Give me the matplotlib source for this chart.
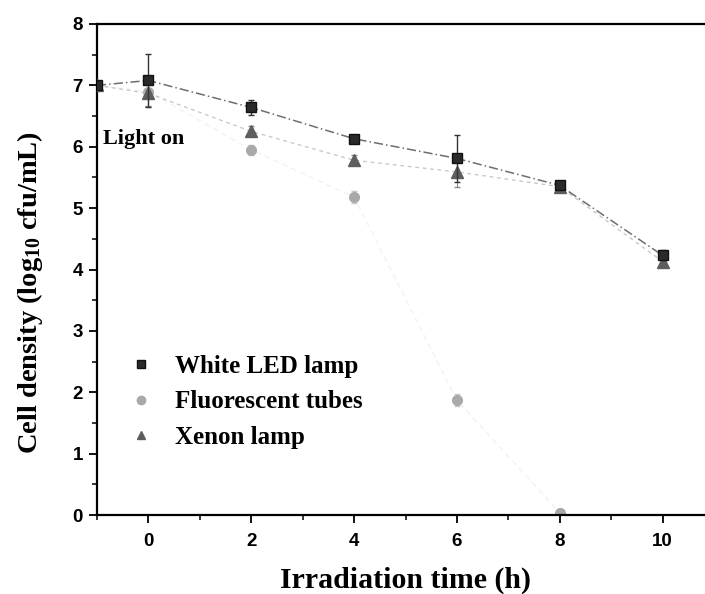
import matplotlib
matplotlib.use("Agg")
import matplotlib.pyplot as plt
from matplotlib.ticker import MultipleLocator

# Irradiation time (h); -1 is the dark control before the light is switched on
time_led = [-1, 0, 2, 4, 6, 8, 10]
led = [7.0, 7.08, 6.64, 6.13, 5.81, 5.37, 4.23]
led_err = [0.05, 0.43, 0.12, 0.06, 0.38, 0.05, 0.08]

time_fluo = [-1, 0, 2, 4, 6, 8]
fluo = [7.0, 6.9, 5.95, 5.18, 1.87, 0.04]
fluo_err = [0.05, 0.25, 0.08, 0.1, 0.1, 0.05]

time_xe = [-1, 0, 2, 4, 6, 8, 10]
xenon = [7.0, 6.87, 6.25, 5.78, 5.59, 5.35, 4.13]
xenon_err = [0.05, 0.2, 0.08, 0.08, 0.25, 0.05, 0.08]

labels = ["White LED lamp", "Fluorescent tubes", "Xenon lamp"]

plt.rcParams["mathtext.fontset"] = "custom"
plt.rcParams["mathtext.rm"] = "Liberation Serif:bold"
plt.rcParams["mathtext.it"] = "Liberation Serif:bold"
plt.rcParams["mathtext.bf"] = "Liberation Serif:bold"

fig = plt.figure(figsize=(7.05, 5.94), dpi=100)
ax = fig.add_axes([97 / 705, 1 - 515 / 594, (714 - 97) / 705, (515 - 24) / 594])

serif = ["Liberation Serif", "DejaVu Serif"]

ax.errorbar(time_fluo, fluo, yerr=fluo_err, color="#f2f2f2", marker="o", ms=7,
            mfc="#a9a9a9", mec="#a9a9a9", ecolor="#c8c8c8",
            ls=(0, (4, 3)), lw=1.0, capsize=2, elinewidth=0.8, label=labels[1], zorder=2)
ax.errorbar(time_xe, xenon, yerr=xenon_err, color="#c4c4c4", marker="^", ms=8,
            mfc="#5e5e5e", mec="#5e5e5e", ecolor="#8a8a8a",
            ls=(0, (3, 3)), lw=0.9, capsize=2, elinewidth=0.8, label=labels[2], zorder=3)
ax.errorbar(time_led, led, yerr=led_err, color="#6e6e6e", marker="s", ms=7.5,
            mfc="#2a2a2a", mec="#111111", ecolor="#333333",
            ls=(0, (6, 2, 1, 2)), lw=1.1, capsize=2, elinewidth=1.0, label=labels[0], zorder=4)

ax.set_xlim(-1, 11)
ax.set_ylim(0, 8)
ax.xaxis.set_major_locator(MultipleLocator(2))
ax.xaxis.set_minor_locator(MultipleLocator(1))
ax.yaxis.set_major_locator(MultipleLocator(1))
ax.yaxis.set_minor_locator(MultipleLocator(0.5))
ax.set_xticks([0, 2, 4, 6, 8, 10])
ax.tick_params(which="major", direction="out", length=6, width=1.3)
ax.tick_params(which="minor", direction="out", length=3.5, width=1.1)
for lbl in ax.get_xticklabels() + ax.get_yticklabels():
    lbl.set_fontfamily(["Liberation Sans", "DejaVu Sans"])
    lbl.set_fontweight("bold")
    lbl.set_fontsize(13.5)
ax.tick_params(axis="x", pad=7)
ax.tick_params(axis="y", pad=4)
for side in ("left", "bottom", "top"):
    ax.spines[side].set_linewidth(1.6)
ax.spines["right"].set_visible(False)

ax.text(-0.88, 6.13, "Light on", fontfamily=serif, fontweight="bold", fontsize=16,
        ha="left", va="center")

ax.set_xlabel("Irradiation time (h)", fontfamily=serif, fontweight="bold",
              fontsize=21.5, labelpad=12)
ax.set_ylabel(r"Cell density (log$_{10}$ cfu/mL)", fontfamily=serif,
              fontweight="bold", fontsize=20.5)
ax.yaxis.set_label_coords(-0.084, 0.454)

handles, labs = ax.get_legend_handles_labels()
hs = []
for name in labels:
    h = handles[labs.index(name)][0]
    hs.append(plt.Line2D([], [], ls="none", marker=h.get_marker(), ms=6,
                         mfc=h.get_markerfacecolor(), mec=h.get_markeredgecolor()))
ax.legend(hs, labels, loc="upper left", bbox_to_anchor=(0.003, 0.387), frameon=False,
          prop={"family": serif, "weight": "bold", "size": 18},
          handlelength=1.0, handletextpad=0.85, labelspacing=0.5, borderaxespad=0.8)

fig.savefig("out.png", dpi=100)
